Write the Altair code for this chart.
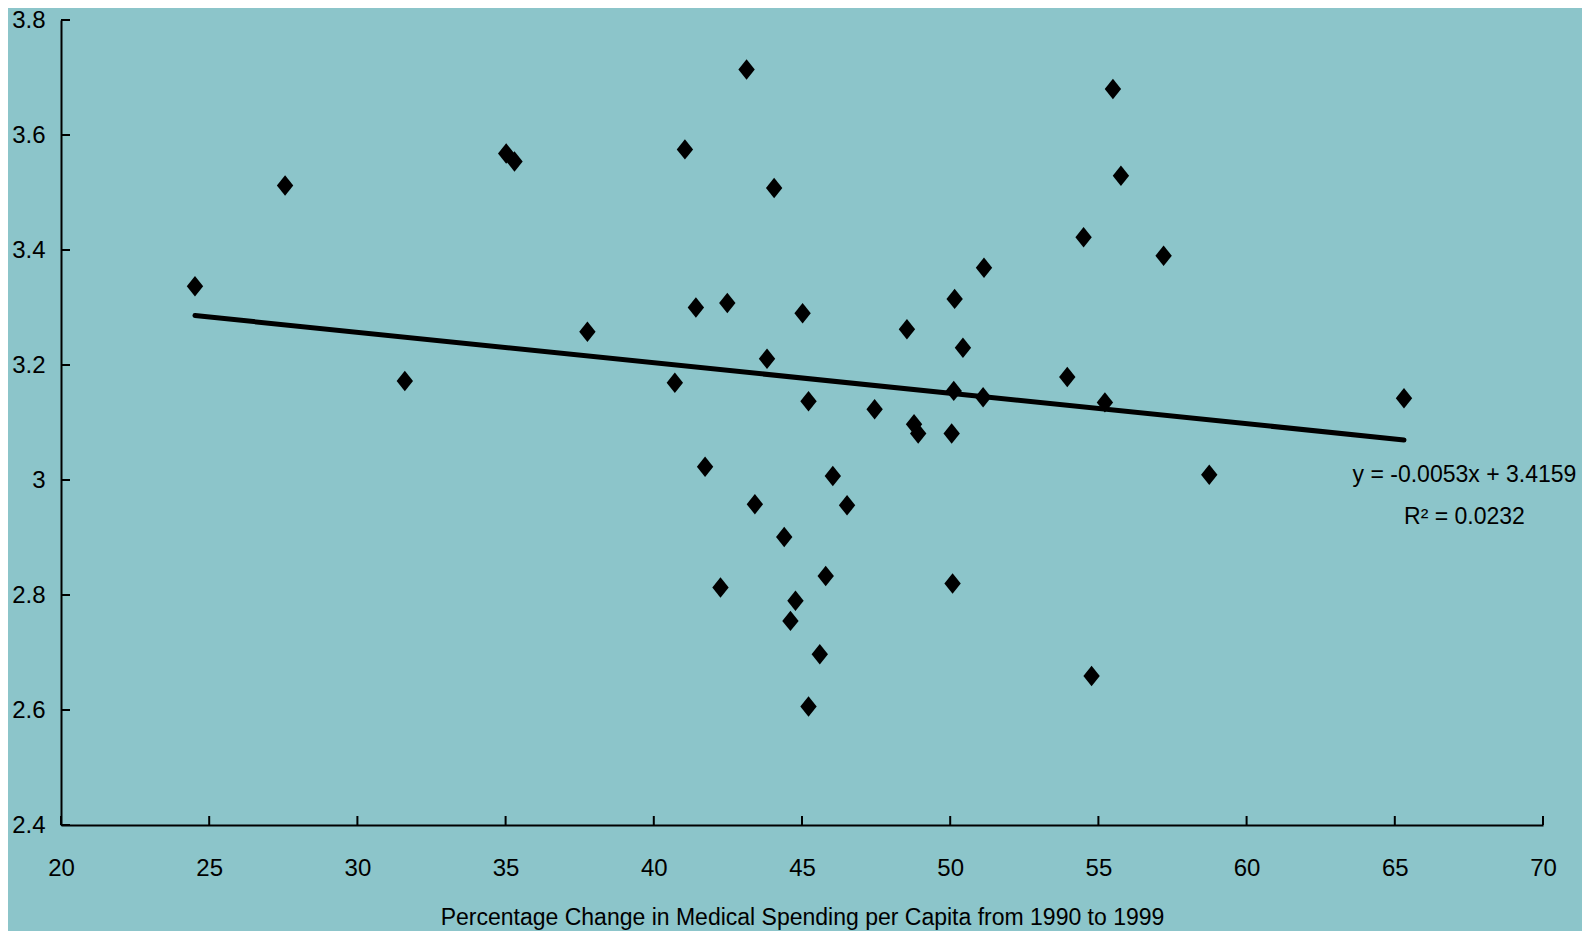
import altair as alt
import pandas as pd

# Data
spend_change = [24.52, 27.56, 31.60, 35.02, 35.30, 37.76, 40.71, 41.05, 41.42, 41.73,
                42.25, 42.48, 43.13, 43.41, 43.82, 44.06, 44.40, 44.61, 44.78, 45.02,
                45.22, 45.22, 45.60, 45.80, 46.04, 46.52, 47.45, 48.54, 48.78, 48.92,
                50.05, 50.08, 50.12, 50.15, 50.43, 51.11, 51.14, 53.95, 54.50, 54.77,
                55.22, 55.49, 55.76, 57.20, 58.74, 65.31]
outcome = [3.337, 3.512, 3.172, 3.568, 3.554, 3.258, 3.169, 3.575, 3.300, 3.023,
           2.813, 3.308, 3.714, 2.958, 3.211, 3.508, 2.901, 2.755, 2.790, 3.290,
           2.606, 3.137, 2.697, 2.833, 3.007, 2.956, 3.123, 3.262, 3.097, 3.081,
           3.081, 2.820, 3.155, 3.315, 3.230, 3.144, 3.369, 3.179, 3.422, 2.659,
           3.135, 3.680, 3.529, 3.390, 3.009, 3.142]

x_ticks = [20, 25, 30, 35, 40, 45, 50, 55, 60, 65, 70]
y_ticks = [2.4, 2.6, 2.8, 3.0, 3.2, 3.4, 3.6, 3.8]

trend_slope = -0.0053
trend_intercept = 3.4159
annotation_lines = ["y = -0.0053x + 3.4159", "R\u00b2 = 0.0232"]
annotation_x = [67.35, 67.35]
annotation_y = [3.009, 2.935]

x_title = "Percentage Change in Medical Spending per Capita from 1990 to 1999"

BG = "#8cc5ca"
FONT = "Liberation Sans"
W, H = 1482, 805

pts = pd.DataFrame({"x": spend_change, "y": outcome})
xmin, xmax = min(spend_change), max(spend_change)
trend = pd.DataFrame({"x": [xmin, xmax],
                      "y": [trend_slope * xmin + trend_intercept,
                            trend_slope * xmax + trend_intercept]})
ann = pd.DataFrame({"x": annotation_x, "y": annotation_y, "t": annotation_lines})
xt = pd.DataFrame({"v": x_ticks})
yt = pd.DataFrame({"v": y_ticks})

xscale = alt.Scale(domain=[20, 70], nice=False, zero=False)
yscale = alt.Scale(domain=[2.4, 3.8], nice=False, zero=False)

xaxis = alt.Axis(values=x_ticks, title=x_title, ticks=False, grid=False,
                 labelPadding=31, titlePadding=26, labelFontSize=24,
                 titleFontSize=23, titleFontWeight="normal", labelFlush=False,
                 domainColor="black", domainWidth=2, labelColor="black",
                 titleColor="black", labelFont=FONT, titleFont=FONT)
yaxis = alt.Axis(values=y_ticks, title=None, ticks=False, grid=False,
                 labelPadding=16, labelFontSize=24, format="~g", labelFlush=False,
                 domainColor="black", domainWidth=2, labelColor="black",
                 labelFont=FONT)

diamond = "M0,-1L0.8,0L0,1L-0.8,0Z"

points = alt.Chart(pts).mark_point(shape=diamond, filled=True, color="black",
                                   opacity=1, size=420, strokeWidth=0).encode(
    x=alt.X("x:Q", scale=xscale, axis=xaxis),
    y=alt.Y("y:Q", scale=yscale, axis=yaxis),
)

line = alt.Chart(trend).mark_line(color="black", strokeWidth=5, strokeCap="round").encode(
    x=alt.X("x:Q", scale=xscale),
    y=alt.Y("y:Q", scale=yscale),
)

xtick_marks = alt.Chart(xt).mark_rule(color="black", strokeWidth=2).encode(
    x=alt.X("v:Q", scale=xscale),
    y=alt.value(H),
    y2=alt.value(H - 9),
)
ytick_marks = alt.Chart(yt).mark_rule(color="black", strokeWidth=2).encode(
    y=alt.Y("v:Q", scale=yscale),
    x=alt.value(0),
    x2=alt.value(9),
)

text = alt.Chart(ann).mark_text(font=FONT, fontSize=23, color="black",
                                 align="center", baseline="middle").encode(
    x=alt.X("x:Q", scale=xscale),
    y=alt.Y("y:Q", scale=yscale),
    text="t:N",
)

chart = alt.layer(points, line, xtick_marks, ytick_marks, text).properties(
    width=W, height=H, background=BG,
    padding={"left": 53, "top": 12, "right": 39, "bottom": 106},
    autosize=alt.AutoSizeParams(type="none"),
).configure_view(stroke=None, fill=BG)

chart.save("out.html", embed_options={"renderer": "svg", "actions": False})
